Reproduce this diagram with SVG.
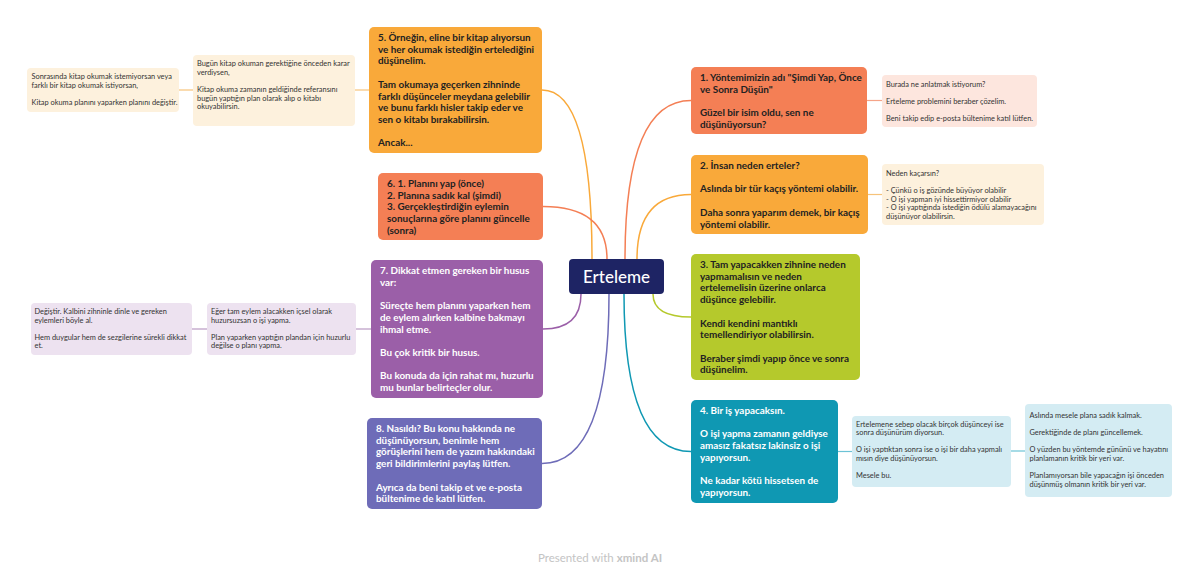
<svg xmlns="http://www.w3.org/2000/svg" width="1200" height="573" viewBox="0 0 1200 573">
<style>
.bg{fill:#ffffff}
.t{font-family:Lato,"Open Sans",sans-serif;font-weight:bold;font-size:9.9px;fill:#222222}
.tw{font-family:Lato,"Open Sans",sans-serif;font-weight:bold;font-size:9.9px;fill:#ffffff}
.s{font-family:Lato,"Open Sans",sans-serif;font-size:7.4px;fill:#333333}
.c{fill:none;stroke-width:1.5}
.l{fill:none;stroke-width:1.2}
</style>
<rect class="bg" x="0" y="0" width="1200" height="573"/>
<g id="connectors">
<path class="c" stroke="#f9a93a" d="M592,259 Q592,90 542,90"/>
<path class="c" stroke="#f47f55" d="M607,259 Q607,206.5 543,206.5"/>
<path class="c" stroke="#f47f55" d="M625,259 Q625,100.5 691,100.5"/>
<path class="c" stroke="#f9a93a" d="M637,259 Q637,194.5 691,194.5"/>
<path class="c" stroke="#b5c92c" d="M653,294 Q653,317 691,317"/>
<path class="c" stroke="#0f98b3" d="M624,294 Q624,451.5 691,451.5"/>
<path class="c" stroke="#9b5fa8" d="M581,294 Q581,329 543,329"/>
<path class="c" stroke="#6e6cb8" d="M609,294 Q609,463.5 542,463.5"/>
<path class="l" stroke="#f6c37a" d="M355,90 H369"/>
<path class="l" stroke="#f6c37a" d="M179,90 H193"/>
<path class="l" stroke="#f5a488" d="M867,100.5 H882"/>
<path class="l" stroke="#f6c37a" d="M868,194.5 H882"/>
<path class="l" stroke="#6cc3d6" d="M838,451.5 H852"/>
<path class="l" stroke="#6cc3d6" d="M1011,451 H1025"/>
<path class="l" stroke="#b99ac3" d="M356,329 H371"/>
<path class="l" stroke="#b99ac3" d="M192,329 H207"/>
</g>
<g id="center">
<rect x="569" y="259" width="95" height="35" rx="4" fill="#1e2464"/>
<text x="616.5" y="282.5" text-anchor="middle" font-family="Lato,'Open Sans',sans-serif" font-size="17" font-weight="500" fill="#ffffff">Erteleme</text>
</g>
<g id="node5">
<rect x="369" y="27" width="173" height="126" rx="5" fill="#f9a93a"/>
<text class="t"><tspan x="378" y="41">5. Örneğin, eline bir kitap alıyorsun</tspan><tspan x="378" y="52.7">ve her okumak istediğin ertelediğini</tspan><tspan x="378" y="64.4">düşünelim.</tspan><tspan x="378" y="87.8">Tam okumaya geçerken zihninde</tspan><tspan x="378" y="99.5">farklı düşünceler meydana gelebilir</tspan><tspan x="378" y="111.2">ve bunu farklı hisler takip eder ve</tspan><tspan x="378" y="122.9">sen o kitabı bırakabilirsin.</tspan><tspan x="378" y="146.3">Ancak...</tspan></text>
</g>
<g id="node5a">
<rect x="193" y="55" width="162" height="71" rx="4" fill="#fdf1dd"/>
<text class="s"><tspan x="197" y="66.2">Bugün kitap okuman gerektiğine önceden karar</tspan><tspan x="197" y="74.8">verdiysen,</tspan><tspan x="197" y="92">Kitap okuma zamanın geldiğinde referansını</tspan><tspan x="197" y="100.6">bugün yaptığın plan olarak alıp o kitabı</tspan><tspan x="197" y="109.2">okuyabilirsin.</tspan></text>
</g>
<g id="node5b">
<rect x="27" y="68" width="152" height="44" rx="4" fill="#fdf1dd"/>
<text class="s"><tspan x="31.5" y="79">Sonrasında kitap okumak istemiyorsan veya</tspan><tspan x="31.5" y="87.6">farklı bir kitap okumak istiyorsan,</tspan><tspan x="31.5" y="104.8">Kitap okuma planını yaparken planını değiştir.</tspan></text>
</g>
<g id="node6">
<rect x="378" y="173" width="165" height="67" rx="5" fill="#f47f55"/>
<text class="t"><tspan x="387" y="187">6. 1. Planını yap (önce)</tspan><tspan x="387" y="198.7">2. Planına sadık kal (şimdi)</tspan><tspan x="387" y="210.4">3. Gerçekleştirdiğin eylemin</tspan><tspan x="387" y="222.1">sonuçlarına göre planını güncelle</tspan><tspan x="387" y="233.8">(sonra)</tspan></text>
</g>
<g id="node7">
<rect x="371" y="260" width="172" height="138" rx="5" fill="#9b5fa8"/>
<text class="tw"><tspan x="380" y="274">7. Dikkat etmen gereken bir husus</tspan><tspan x="380" y="285.7">var:</tspan><tspan x="380" y="309.1">Süreçte hem planını yaparken hem</tspan><tspan x="380" y="320.8">de eylem alırken kalbine bakmayı</tspan><tspan x="380" y="332.5">ihmal etme.</tspan><tspan x="380" y="355.9">Bu çok kritik bir husus.</tspan><tspan x="380" y="379.3">Bu konuda da için rahat mı, huzurlu</tspan><tspan x="380" y="391">mu bunlar belirteçler olur.</tspan></text>
</g>
<g id="node7a">
<rect x="207" y="303" width="149" height="52" rx="4" fill="#ede2f0"/>
<text class="s"><tspan x="211" y="314">Eğer tam eylem alacakken içsel olarak</tspan><tspan x="211" y="322.6">huzursuzsan o işi yapma.</tspan><tspan x="211" y="339.8">Plan yaparken yaptığın plandan için huzurlu</tspan><tspan x="211" y="348.4">değilse o planı yapma.</tspan></text>
</g>
<g id="node7b">
<rect x="31" y="303" width="161" height="52" rx="4" fill="#ede2f0"/>
<text class="s"><tspan x="34.5" y="314">Değiştir. Kalbini zihninle dinle ve gereken</tspan><tspan x="34.5" y="322.6">eylemleri böyle al.</tspan><tspan x="34.5" y="339.8">Hem duygular hem de sezgilerine sürekli dikkat</tspan><tspan x="34.5" y="348.4">et.</tspan></text>
</g>
<g id="node8">
<rect x="367" y="418" width="175" height="91" rx="5" fill="#6e6cb8"/>
<text class="tw"><tspan x="376" y="432">8. Nasıldı? Bu konu hakkında ne</tspan><tspan x="376" y="443.7">düşünüyorsun, benimle hem</tspan><tspan x="376" y="455.4">görüşlerini hem de yazım hakkındaki</tspan><tspan x="376" y="467.1">geri bildirimlerini paylaş lütfen.</tspan><tspan x="376" y="490.5">Ayrıca da beni takip et ve e-posta</tspan><tspan x="376" y="502.2">bültenime de katıl lütfen.</tspan></text>
</g>
<g id="node1">
<rect x="691" y="67" width="176" height="67" rx="5" fill="#f47f55"/>
<text class="t"><tspan x="700" y="81">1. Yöntemimizin adı "Şimdi Yap, Önce</tspan><tspan x="700" y="92.7">ve Sonra Düşün"</tspan><tspan x="700" y="116.1">Güzel bir isim oldu, sen ne</tspan><tspan x="700" y="127.8">düşünüyorsun?</tspan></text>
</g>
<g id="node1a">
<rect x="882" y="75" width="155" height="52" rx="4" fill="#fde6de"/>
<text class="s"><tspan x="886" y="86.5">Burada ne anlatmak istiyorum?</tspan><tspan x="886" y="103.7">Erteleme problemini beraber çözelim.</tspan><tspan x="886" y="120.9">Beni takip edip e-posta bültenime katıl lütfen.</tspan></text>
</g>
<g id="node2">
<rect x="691" y="155" width="177" height="79" rx="5" fill="#f9a93a"/>
<text class="t"><tspan x="700" y="169">2. İnsan neden erteler?</tspan><tspan x="700" y="192.4">Aslında bir tür kaçış yöntemi olabilir.</tspan><tspan x="700" y="215.8">Daha sonra yaparım demek, bir kaçış</tspan><tspan x="700" y="227.5">yöntemi olabilir.</tspan></text>
</g>
<g id="node2a">
<rect x="882" y="164" width="162" height="61" rx="4" fill="#fdf1dd"/>
<text class="s"><tspan x="886" y="176">Neden kaçarsın?</tspan><tspan x="886" y="193.2">- Çünkü o iş gözünde büyüyor olabilir</tspan><tspan x="886" y="201.8">- O işi yapman iyi hissettirmiyor olabilir</tspan><tspan x="886" y="210.4">- O işi yaptığında istediğin ödülü alamayacağını</tspan><tspan x="886" y="219">düşünüyor olabilirsin.</tspan></text>
</g>
<g id="node3">
<rect x="691" y="254" width="169" height="126" rx="5" fill="#b5c92c"/>
<text class="t"><tspan x="700" y="268">3. Tam yapacakken zihnine neden</tspan><tspan x="700" y="279.7">yapmamalısın ve neden</tspan><tspan x="700" y="291.4">ertelemelisin üzerine onlarca</tspan><tspan x="700" y="303.1">düşünce gelebilir.</tspan><tspan x="700" y="326.5">Kendi kendini mantıklı</tspan><tspan x="700" y="338.2">temellendiriyor olabilirsin.</tspan><tspan x="700" y="361.6">Beraber şimdi yapıp önce ve sonra</tspan><tspan x="700" y="373.3">düşünelim.</tspan></text>
</g>
<g id="node4">
<rect x="691" y="400" width="147" height="103" rx="5" fill="#0f98b3"/>
<text class="tw"><tspan x="700" y="414">4. Bir iş yapacaksın.</tspan><tspan x="700" y="437.4">O işi yapma zamanın geldiyse</tspan><tspan x="700" y="449.1">amasız fakatsız lakinsiz o işi</tspan><tspan x="700" y="460.8">yapıyorsun.</tspan><tspan x="700" y="484.2">Ne kadar kötü hissetsen de</tspan><tspan x="700" y="495.9">yapıyorsun.</tspan></text>
</g>
<g id="node4a">
<rect x="852" y="416" width="159" height="71" rx="4" fill="#d4ecf3"/>
<text class="s"><tspan x="856" y="426.5">Ertelemene sebep olacak birçok düşünceyi ise</tspan><tspan x="856" y="435.1">sonra düşünürüm diyorsun.</tspan><tspan x="856" y="452.3">O işi yaptıktan sonra ise o işi bir daha yapmalı</tspan><tspan x="856" y="460.9">mısın diye düşünüyorsun.</tspan><tspan x="856" y="478.1">Mesele bu.</tspan></text>
</g>
<g id="node4b">
<rect x="1025" y="404" width="147" height="93" rx="4" fill="#d4ecf3"/>
<text class="s"><tspan x="1029.5" y="418">Aslında mesele plana sadık kalmak.</tspan><tspan x="1029.5" y="435.2">Gerektiğinde de planı güncellemek.</tspan><tspan x="1029.5" y="452.4">O yüzden bu yöntemde gününü ve hayatını</tspan><tspan x="1029.5" y="461">planlamanın kritik bir yeri var.</tspan><tspan x="1029.5" y="478.2">Planlamıyorsan bile yapacağın işi önceden</tspan><tspan x="1029.5" y="486.8">düşünmüş olmanın kritik bir yeri var.</tspan></text>
</g>
<text x="600" y="562" text-anchor="middle" font-family="Lato,'Open Sans',sans-serif" font-size="11.5" fill="#c4c4c4">Presented with <tspan font-weight="bold">xmind AI</tspan></text>
</svg>
